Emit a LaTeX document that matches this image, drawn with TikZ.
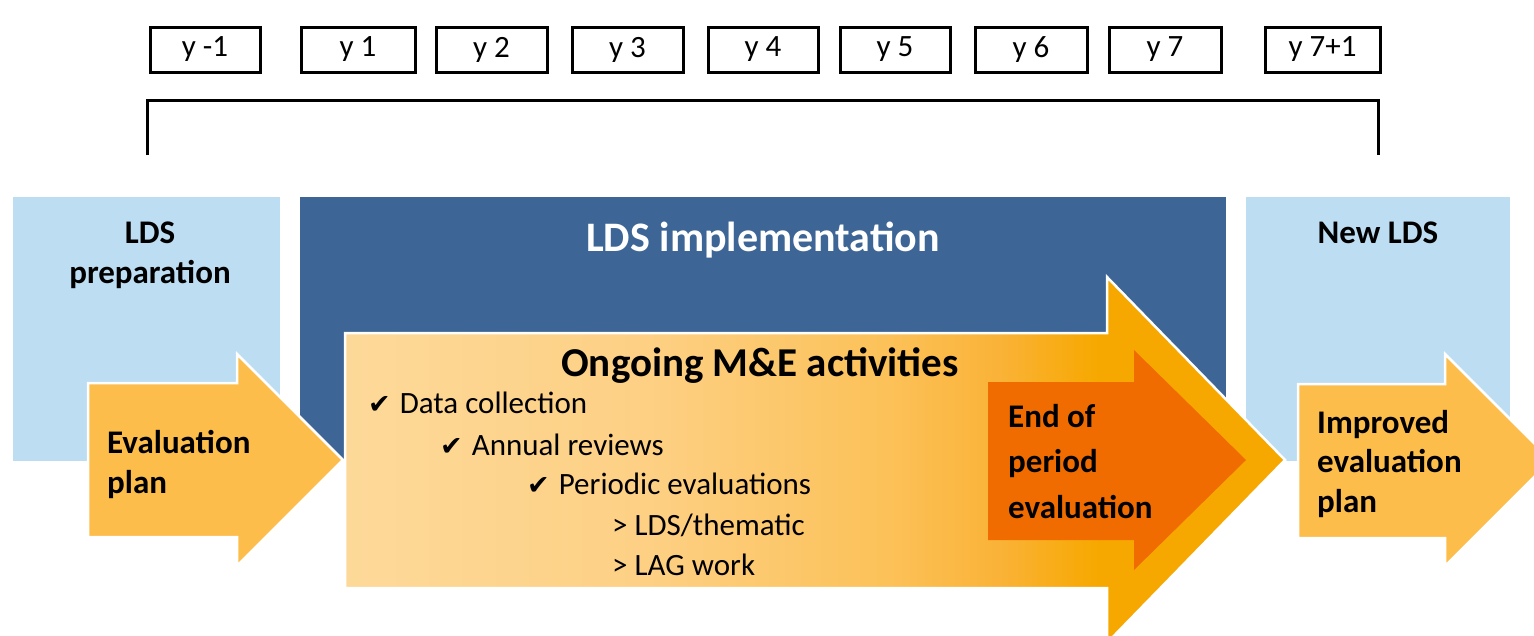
\documentclass[tikz,border=0pt]{standalone}
\usepackage{fontspec}
\setmainfont{Carlito}
\newfontfamily\symfont{DejaVu Sans}

\definecolor{ldslight}{HTML}{BCDDF2}
\definecolor{ldsdark}{HTML}{3D6595}
\definecolor{planorange}{HTML}{FDBD4B}
\definecolor{endorange}{HTML}{F06C00}
\definecolor{meA}{HTML}{FDD999}
\definecolor{meB}{HTML}{FDD084}
\definecolor{meC}{HTML}{FCC158}
\definecolor{meD}{HTML}{FAB236}
\definecolor{meE}{HTML}{F7A800}

\pgfdeclarehorizontalshading{mefade}{100bp}{color(0bp)=(meA); color(25bp)=(meA);
  color(41bp)=(meB); color(54bp)=(meC); color(60bp)=(meD); color(65bp)=(meE); color(100bp)=(meE)}

\newcommand{\chk}{{\symfont\fontsize{27}{27}\selectfont ✔}\hspace{2pt}}

\begin{document}
\begin{tikzpicture}[x=1pt, y=-1pt,
                every node/.style={inner sep=0pt},
                yearbox/.style={draw=black, line width=3pt, minimum height=45pt, font=\fontsize{31}{31}\selectfont},
                phasetxt/.style={align=center, font=\bfseries\fontsize{33}{40}\selectfont},
                arrowtxt/.style={align=left, anchor=base west, font=\bfseries\fontsize{33}{40}\selectfont},
                itemtxt/.style={anchor=base west, font=\fontsize{31}{31}\selectfont},
                bracket/.style={draw=black, line width=3pt},
                arrowshape/.style={draw=white, line width=2.5pt, line join=miter}]

                \useasboundingbox (0,0) rectangle (1534,635);

                % years
                \node[yearbox, minimum width=110pt] (ym1) at (205,49.5) {y -1};
                \node[yearbox, minimum width=114pt] (y1) at (358,49.5) {y 1};
                \node[yearbox, minimum width=111pt] (y2) at (491.5,49.5) {y 2};
                \node[yearbox, minimum width=111pt] (y3) at (627.5,49.5) {y 3};
                \node[yearbox, minimum width=110pt] (y4) at (763,49.5) {y 4};
                \node[yearbox, minimum width=110pt] (y5) at (895,49.5) {y 5};
                \node[yearbox, minimum width=112pt] (y6) at (1031,49.5) {y 6};
                \node[yearbox, minimum width=112pt] (y7) at (1165,49.5) {y 7};
                \node[yearbox, minimum width=115pt] (yp1) at (1322.5,49.5) {y 7+1};

                \draw[bracket] (147,155) -- (147,100) -- (1378,100) -- (1378,155);

                % phases
                \fill[ldslight] (13,197) rectangle (280,461);
                \fill[ldsdark] (300,197) rectangle (1226,460);
                \fill[ldslight] (1246,197) rectangle (1510,461);

                \node[phasetxt, anchor=base] (prep) at (150,283) {LDS\\preparation};
                \node[phasetxt, anchor=base, text=white, font=\bfseries\fontsize{42}{42}\selectfont] (impl) at (763,251) {LDS implementation};
                \node[phasetxt, anchor=base] (newlds) at (1378,243) {New LDS};

                % arrows
                \shadedraw[arrowshape, shading=mefade] (345,333) -- (1107,333) -- (1107,277) -- (1285,460)
                    -- (1107,643) -- (1107,588) -- (345,588) -- cycle;
                \fill[endorange] (988,382) -- (1134,382) -- (1134,350) -- (1246,460)
                    -- (1134,570) -- (1134,540) -- (988,540) -- cycle;
                \filldraw[arrowshape, fill=planorange] (88,383) -- (237,383) -- (237,354) -- (343,460)
                    -- (237,566) -- (237,537) -- (88,537) -- cycle;
                \filldraw[arrowshape, fill=planorange] (1298,384) -- (1445,384) -- (1445,354) -- (1551,460)
                    -- (1445,566) -- (1445,538) -- (1298,538) -- cycle;

                \node[arrowtxt] (evalplan) at (107,493) {Evaluation\\plan};
                \node[arrowtxt, font=\bfseries\fontsize{33}{45.5}\selectfont] (endeval) at (1008,518) {End of\\period\\evaluation};
                \node[arrowtxt, font=\bfseries\fontsize{33}{39.5}\selectfont] (impplan) at (1317,512) {Improved\\evaluation\\plan};

                % ongoing M&E
                \node[anchor=base, font=\bfseries\fontsize{41}{41}\selectfont] (ongoing) at (760,376) {Ongoing M\&E activities};
                \node[itemtxt] (datacoll) at (368,413) {\chk\ Data collection};
                \node[itemtxt] (annual) at (440,455) {\chk\ Annual reviews};
                \node[itemtxt] (periodic) at (527,494) {\chk\ Periodic evaluations};
                \node[itemtxt] (thematic) at (612,535) {> LDS/thematic};
                \node[itemtxt] (lagwork) at (612,575) {> LAG work};
\end{tikzpicture}
\end{document}
